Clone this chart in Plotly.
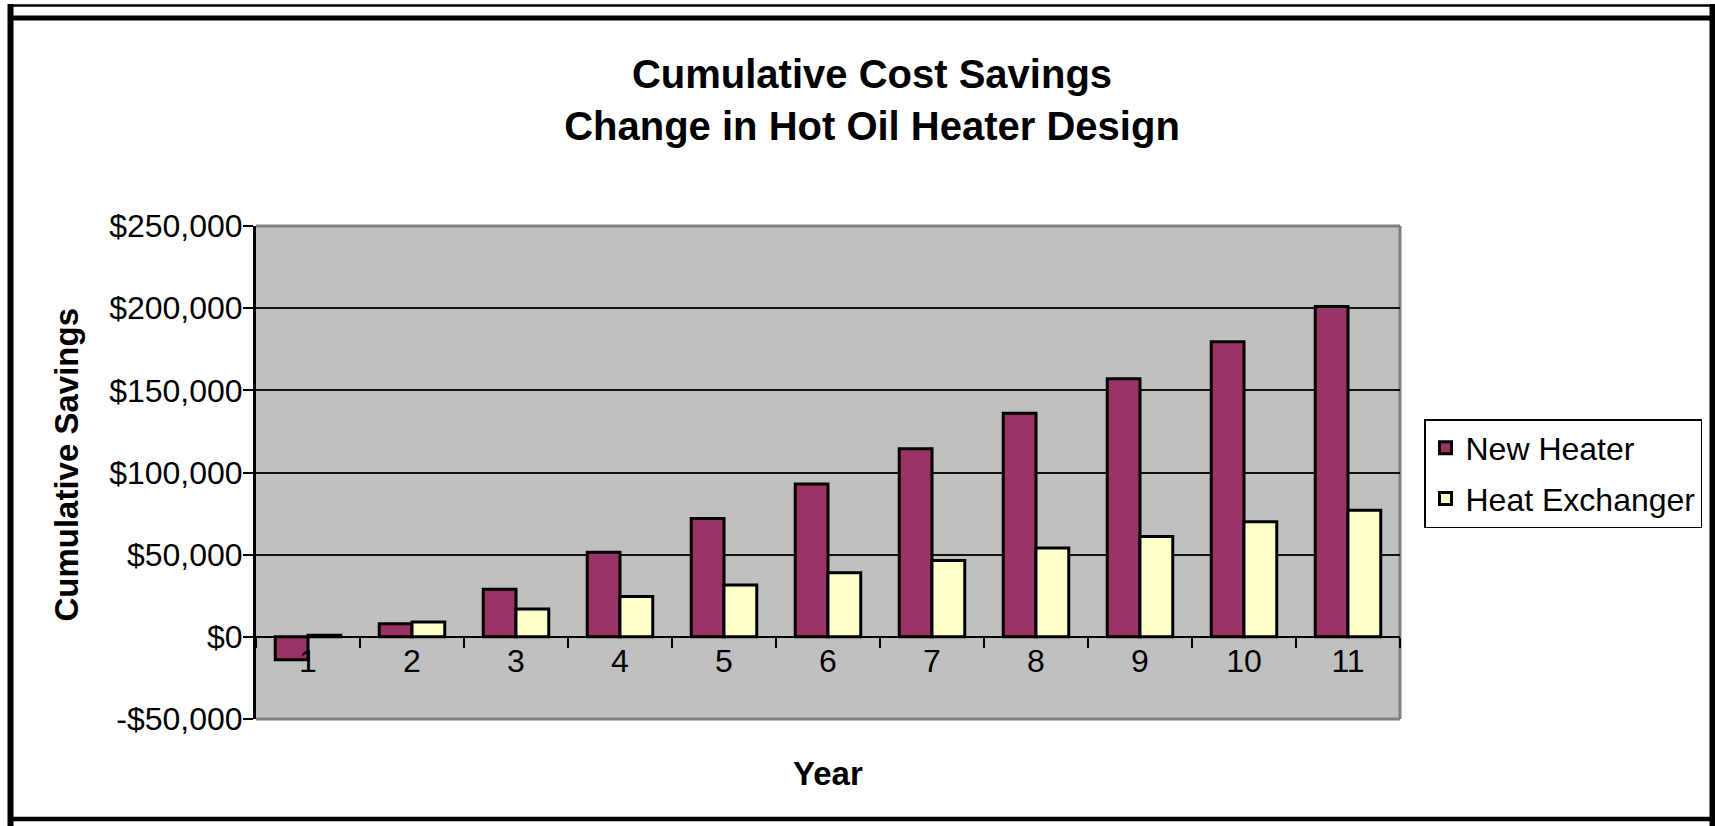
import plotly.graph_objects as go

# Cumulative savings by year for the two design options
years = ["1", "2", "3", "4", "5", "6", "7", "8", "9", "10", "11"]
new_heater = [-14000, 8000, 29000, 51500, 72000, 93000, 114500, 136000, 157000, 179500, 201000]
heat_exchanger = [1000, 9000, 17000, 24500, 31500, 39000, 46500, 54000, 61000, 70000, 77000]

y_tickvals = [-50000, 0, 50000, 100000, 150000, 200000, 250000]
y_ticktext = ["-$50,000", "$0", "$50,000", "$100,000", "$150,000", "$200,000", "$250,000"]

W, H = 1715, 826
PL, PR, PT, PB = 256, 1400, 226, 719  # plot area in pixels

FONT = "Liberation Sans, Arial, sans-serif"


def fx(px):
    return (px - PL) / (PR - PL)


def fy(py):
    return (PB - py) / (PB - PT)


fig = go.Figure()
fig.add_trace(go.Bar(
    x=years, y=new_heater, name="New Heater", legendgroup="a",
    marker=dict(color="#993366", line=dict(color="black", width=3)),
))
fig.add_trace(go.Bar(
    x=years, y=heat_exchanger, name="Heat Exchanger", legendgroup="b",
    marker=dict(color="#FFFFCC", line=dict(color="black", width=3)),
))

ymin, ymax = y_tickvals[0], y_tickvals[-1]

shapes = []
# plot-area frame (grey top, right, bottom)
for x0, y0, x1, y1 in [(0, 1, 1, 1), (1, 0, 1, 1), (0, 0, 1, 0)]:
    shapes.append(dict(type="line", xref="x domain", yref="y domain",
                       x0=x0, y0=y0, x1=x1, y1=y1,
                       line=dict(color="#808080", width=3), layer="below"))
# outer chart frame
frame = [
    (10.5, 4, 10.5, 826, 6),
    (1712.5, 4, 1712.5, 826, 6),
    (8, 5.5, 1715, 5.5, 2.5),
    (8, 18, 1715, 18, 5),
    (8, 819, 1715, 819, 4.5),
]
for x0, y0, x1, y1, w in frame:
    shapes.append(dict(type="line", xref="paper", yref="paper",
                       x0=fx(x0), y0=fy(y0), x1=fx(x1), y1=fy(y1),
                       line=dict(color="black", width=w)))

annotations = [
    dict(text="Cumulative Savings", textangle=-90, xref="paper", yref="paper",
         x=fx(65.6), y=fy(465), xanchor="center", yanchor="middle", showarrow=False,
         font=dict(family=FONT, size=33, color="black", weight="bold")),
    dict(text="Year", xref="paper", yref="paper",
         x=fx(828), y=fy(773), xanchor="center", yanchor="middle", showarrow=False,
         font=dict(family=FONT, size=33, color="black", weight="bold")),
]

fig.update_layout(
    width=W, height=H,
    margin=dict(l=PL, r=W - PR, t=PT, b=H - PB, pad=0),
    paper_bgcolor="white",
    plot_bgcolor="#C0C0C0",
    barmode="group",
    bargap=0.37,
    bargroupgap=0,
    font=dict(family=FONT, color="black"),
    title=dict(
        text="Cumulative Cost Savings<br>Change in Hot Oil Heater Design",
        x=872 / W, xanchor="center", y=1 - 88 / H, yanchor="middle",
        yref="container", xref="container",
        font=dict(family=FONT, size=40, color="black", weight="bold"),
    ),
    xaxis=dict(
        type="category",
        anchor="free",
        position=(0 - ymin) / (ymax - ymin),
        showline=True, linecolor="black", linewidth=2,
        ticks="outside", tickson="boundaries", ticklen=10, tickwidth=2, tickcolor="black",
        tickfont=dict(family=FONT, size=32, color="black"),
        ticklabelstandoff=-4,
        showgrid=False, zeroline=False,
    ),
    yaxis=dict(
        range=[ymin, ymax],
        tickvals=y_tickvals, ticktext=y_ticktext,
        showline=True, linecolor="black", linewidth=3,
        ticks="outside", ticklen=10, tickwidth=2, tickcolor="black",
        tickfont=dict(family=FONT, size=32, color="black"),
        ticklabelstandoff=-6,
        showgrid=True, gridcolor="#111111", gridwidth=2,
        zeroline=False,
    ),
    legend=dict(
        x=fx(1424), y=fy(419), xanchor="left", yanchor="top",
        bgcolor="white", bordercolor="black", borderwidth=1.5,
        font=dict(family=FONT, size=32, color="black"),
        traceorder="grouped", tracegroupgap=6,
    ),
    shapes=shapes,
    annotations=annotations,
)

fig.write_html("out.html")
